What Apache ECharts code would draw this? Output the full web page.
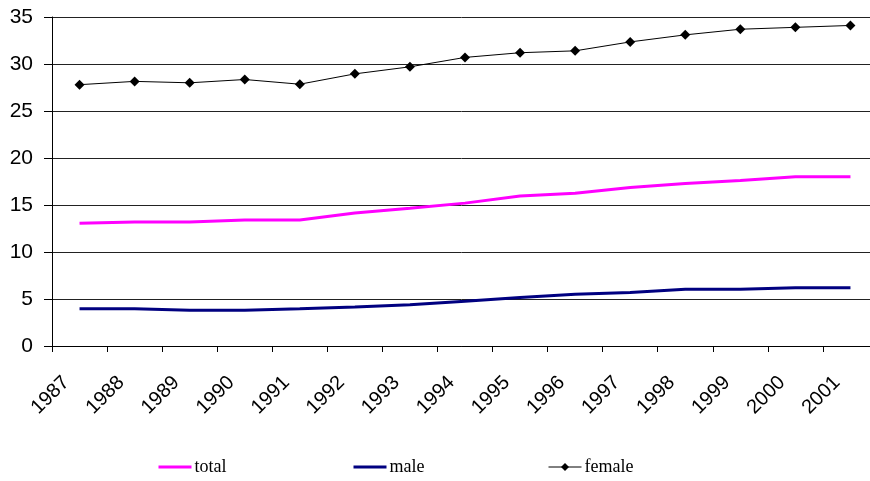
<!DOCTYPE html>
<html>
<head>
<meta charset="utf-8">
<script src="https://cdn.jsdelivr.net/npm/echarts@6/dist/echarts.min.js"></script>
<style>
html,body{margin:0;padding:0;background:#fff;}
#chart{width:870px;height:481px;}
</style>
</head>
<body>
<div id="chart"></div>
<script>
const years = ['1987','1988','1989','1990','1991','1992','1993','1994','1995','1996','1997','1998','1999','2000','2001'];
const total = [13.05, 13.2, 13.2, 13.4, 13.4, 14.15, 14.65, 15.2, 15.95, 16.25, 16.85, 17.3, 17.6, 18.0, 18.0];
const male = [3.95, 3.95, 3.8, 3.8, 3.95, 4.15, 4.4, 4.75, 5.15, 5.5, 5.7, 6.05, 6.05, 6.2, 6.2];
const female = [27.8, 28.15, 28.0, 28.35, 27.85, 28.95, 29.7, 30.7, 31.2, 31.4, 32.35, 33.1, 33.7, 33.9, 34.1];
const yTicks = { min: 0, max: 35, interval: 5 };

function legendAt(name, left, hideSymbol, color, width) {
  const item = { name: name, lineStyle: { width: width, color: color } };
  if (hideSymbol) item.itemStyle = { opacity: 0 };
  return {
    left: left, top: 458, padding: 0,
    itemWidth: 33, itemHeight: 10, itemGap: 0,
    textStyle: { fontFamily: 'Liberation Serif', fontSize: 18, color: '#000', padding: [0, 0, 0, -2] },
    data: [item]
  };
}

const chart = echarts.init(document.getElementById('chart'), null, { renderer: 'canvas' });
chart.setOption({
  animation: false,
  backgroundColor: '#fff',
  grid: { left: 52, width: 826, top: 17, bottom: 135, containLabel: false, outerBoundsMode: 'none' },
  legend: [
    legendAt('total', 157, true, '#ff00ff', 3),
    legendAt('male', 352, true, '#000080', 3),
    legendAt('female', 548, false, '#000', 1)
  ],
  xAxis: {
    type: 'category',
    data: years,
    boundaryGap: true,
    axisLine: { lineStyle: { color: '#000', width: 1 } },
    axisTick: { show: true, length: 6, lineStyle: { color: '#000' } },
    axisLabel: {
      rotate: 45, margin: 20, padding: [0, 19, 0, 0],
      fontFamily: 'Liberation Sans', fontSize: 20, color: '#000', interval: 0
    },
    splitLine: { show: false }
  },
  yAxis: {
    type: 'value',
    min: yTicks.min, max: yTicks.max, interval: yTicks.interval,
    axisLine: { show: true, lineStyle: { color: '#000', width: 1 } },
    axisTick: { show: true, length: 8, lineStyle: { color: '#000' } },
    axisLabel: { margin: 19, fontFamily: 'Liberation Sans', fontSize: 21, color: '#000' },
    splitLine: { show: true, lineStyle: { color: '#222', width: 1 } }
  },
  series: [
    { name: 'total', type: 'line', data: total, symbol: 'none',
      lineStyle: { color: '#ff00ff', width: 3 }, itemStyle: { color: '#ff00ff' } },
    { name: 'male', type: 'line', data: male, symbol: 'none',
      lineStyle: { color: '#000080', width: 3 }, itemStyle: { color: '#000080' } },
    { name: 'female', type: 'line', data: female, symbol: 'diamond', symbolSize: 10,
      lineStyle: { color: '#000', width: 1 }, itemStyle: { color: '#000' } }
  ]
});
</script>
</body>
</html>
